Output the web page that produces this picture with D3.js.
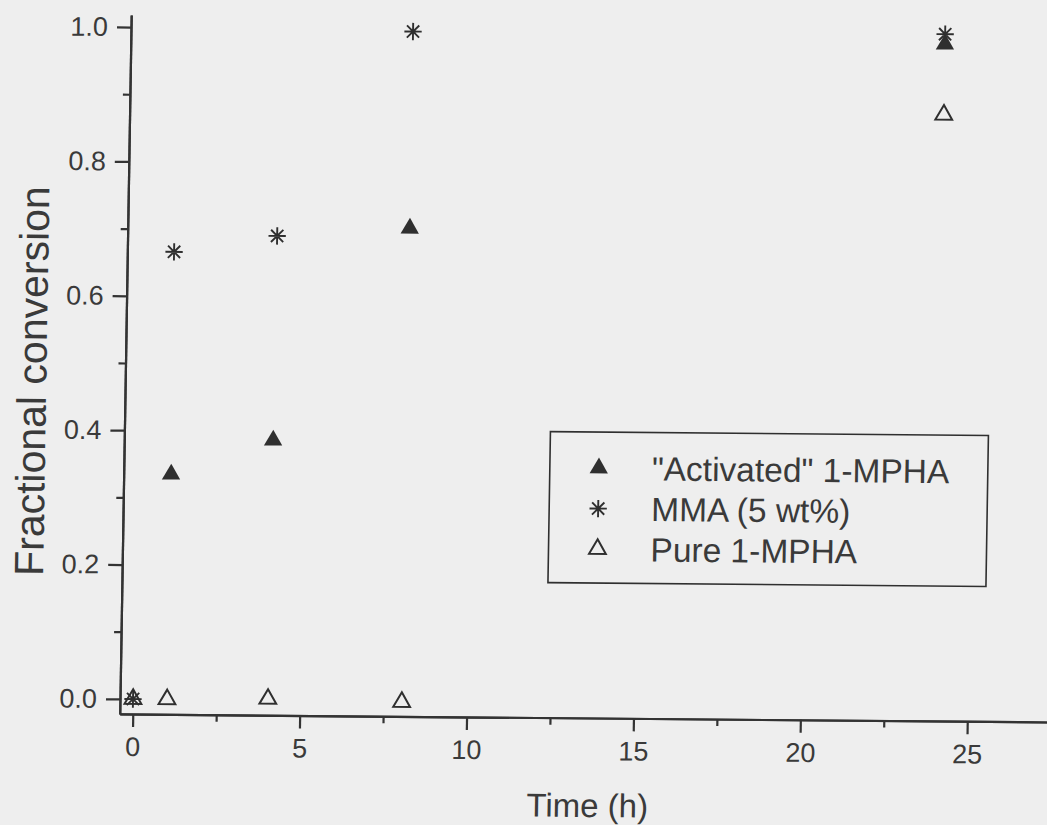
<!DOCTYPE html>
<html>
<head>
<meta charset="utf-8">
<script src="https://cdn.jsdelivr.net/npm/d3@7"></script>
<style>
  html, body { margin: 0; padding: 0; background: #eeeeee; }
  svg { display: block; }
  .axis path, .axis line { stroke: #333; stroke-width: 2.2; }
</style>
</head>
<body>
<svg id="chart"></svg>
<script>
// values
const activatedTime = [1.03, 4.07, 8.06, 24];
const activatedConv = [0.335, 0.387, 0.704, 0.985];
const mmaTime = [0, 1.01, 4.09, 8.06, 24];
const mmaConv = [0, 0.666, 0.691, 0.997, 1.0];
const pureTime = [0, 1.02, 4.04, 8.05, 24];
const pureConv = [0, 0, 0.002, -0.001, 0.88];

const xTicks = [0, 5, 10, 15, 20, 25];
const xMinor = [2.5, 7.5, 12.5, 17.5, 22.5];
const yTicks = [0, 0.2, 0.4, 0.6, 0.8, 1.0];
const yMinor = [0.1, 0.3, 0.5, 0.7, 0.9];
const legendLabels = ['"Activated" 1-MPHA', "MMA (5 wt%)", "Pure 1-MPHA"];

const w = 1047;
const h = 825;
const ink = "#2f2f2f";
const textInk = "#3a3a3a";
const font = '"Liberation Sans", Arial, sans-serif';

const svg = d3.select("#chart")
    .attr("width", w)
    .attr("height", h);

// the scan is a little skewed, so everything sits in a tilted group
const g = svg.append("g")
    .attr("transform", "translate(133,699) rotate(0.5) skewX(-0.44) translate(-133,-699)");

const xScale = d3.scaleLinear()
    .domain([-0.39, 27.8])
    .range([120, 1061]);

const yScale = d3.scaleLinear()
    .domain([-0.0223, 1.018])
    .range([714, 15]);

const y0 = yScale.range()[0];
const x0 = xScale.range()[0];

function styleLabels(sel) {
    sel.selectAll("text")
        .style("font-family", font)
        .style("font-size", "27px")
        .style("fill", textInk);
}

// minor ticks first
g.append("g")
    .attr("class", "axis")
    .attr("transform", `translate(0,${y0})`)
    .call(d3.axisBottom(xScale).tickValues(xMinor).tickSize(7).tickSizeOuter(0).tickFormat(""));

g.append("g")
    .attr("class", "axis")
    .attr("transform", `translate(${x0},0)`)
    .call(d3.axisLeft(yScale).tickValues(yMinor).tickSize(7).tickSizeOuter(0).tickFormat(""));

g.append("g")
    .attr("class", "axis")
    .attr("id", "x-axis")
    .attr("transform", `translate(0,${y0})`)
    .call(d3.axisBottom(xScale).tickValues(xTicks).tickSize(13).tickPadding(10).tickSizeOuter(0).tickFormat(d3.format("d")))
    .call(styleLabels);

g.append("g")
    .attr("class", "axis")
    .attr("id", "y-axis")
    .attr("transform", `translate(${x0},0)`)
    .call(d3.axisLeft(yScale).tickValues(yTicks).tickSize(14).tickPadding(9).tickSizeOuter(0).tickFormat(d3.format(".1f")))
    .call(styleLabels);

// markers
const asterisk = {
    draw(context, size) {
        const r = Math.sqrt(size) / 2;
        for (let i = 0; i < 4; i++) {
            const a = i * Math.PI / 4;
            context.moveTo(-r * Math.cos(a), -r * Math.sin(a));
            context.lineTo(r * Math.cos(a), r * Math.sin(a));
        }
    }
};
const starPath = d3.symbol().type(asterisk).size(300)();
const filledTri = d3.symbol().type(d3.symbolTriangle).size(145)();
const openTri = d3.symbol().type(d3.symbolTriangle).size(122)();

const mmaData = mmaTime.map((t, i) => [t, mmaConv[i]]);
const actData = activatedTime.map((t, i) => [t, activatedConv[i]]);
const pureData = pureTime.map((t, i) => [t, pureConv[i]]);

g.selectAll(".mma")
    .data(mmaData)
    .enter()
    .append("path")
    .attr("class", "mma")
    .attr("d", starPath)
    .attr("transform", d => `translate(${xScale(d[0])},${yScale(d[1])})`)
    .attr("fill", "none")
    .attr("stroke", ink)
    .attr("stroke-width", 1.9);

g.selectAll(".act")
    .data(actData)
    .enter()
    .append("path")
    .attr("class", "act")
    .attr("d", filledTri)
    .attr("transform", d => `translate(${xScale(d[0])},${yScale(d[1])})`)
    .attr("fill", ink);

g.selectAll(".pure")
    .data(pureData)
    .enter()
    .append("path")
    .attr("class", "pure")
    .attr("d", openTri)
    .attr("transform", d => `translate(${xScale(d[0])},${yScale(d[1])})`)
    .attr("fill", "none")
    .attr("stroke", ink)
    .attr("stroke-width", 2);

// legend
const legend = g.append("g").attr("transform", "translate(546,428)");
legend.append("rect")
    .attr("width", 438)
    .attr("height", 151)
    .attr("fill", "none")
    .attr("stroke", ink)
    .attr("stroke-width", 1.6);

const legendMarks = [
    { d: filledTri, fill: ink, stroke: "none" },
    { d: starPath, fill: "none", stroke: ink },
    { d: openTri, fill: "none", stroke: ink }
];

legendLabels.forEach((label, i) => {
    const cy = 36 + i * 40.5;
    legend.append("path")
        .attr("d", legendMarks[i].d)
        .attr("transform", `translate(49,${cy})`)
        .attr("fill", legendMarks[i].fill)
        .attr("stroke", legendMarks[i].stroke)
        .attr("stroke-width", i === 1 ? 1.9 : 2);
    legend.append("text")
        .attr("x", 102)
        .attr("y", cy + 12)
        .attr("font-family", font)
        .attr("font-size", 33.5)
        .attr("fill", textInk)
        .text(label);
});

// axis titles
g.append("text")
    .attr("x", 589)
    .attr("y", 813)
    .attr("text-anchor", "middle")
    .attr("font-family", font)
    .attr("font-size", 33)
    .attr("fill", textInk)
    .text("Time (h)");

g.append("text")
    .attr("transform", "translate(41,382) rotate(-90)")
    .attr("text-anchor", "middle")
    .attr("font-family", font)
    .attr("font-size", 41)
    .attr("fill", textInk)
    .text("Fractional conversion");
</script>
</body>
</html>
